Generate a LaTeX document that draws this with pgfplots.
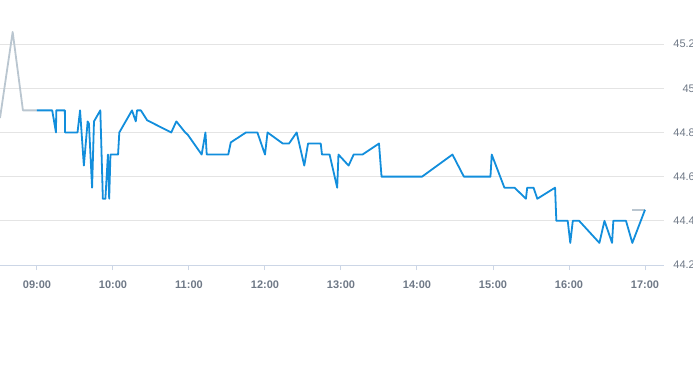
\documentclass[border=0pt]{standalone}
\usepackage{pgfplots}
\pgfplotsset{compat=1.18}
\usepackage{fontspec}
\setmainfont{Liberation Sans}
\definecolor{lblue}{RGB}{18,142,220}
\definecolor{lgray}{RGB}{186,198,208}
\definecolor{gridc}{RGB}{228,228,228}
\definecolor{axisc}{RGB}{204,214,230}
\definecolor{labc}{RGB}{110,120,134}
\begin{document}
\begin{tikzpicture}
\begin{axis}[
  name=ax,
  at={(0,0)}, anchor=south west,
  scale only axis, width=664bp, height=243bp,
  xmin=-29.2, xmax=495, ymin=44.2, ymax=45.3,
  axis x line*=bottom, axis y line=none,
  x axis line style={draw=axisc, line width=1bp, -},
  xtick={0,60,120,180,240,300,360,420,480},
  xticklabels={09:00,10:00,11:00,12:00,13:00,14:00,15:00,16:00,17:00},
  xtick style={draw=axisc, line width=1bp},
  major tick length=5bp,
  tick align=outside,
  xticklabel style={font=\fontsize{11bp}{13bp}\selectfont\bfseries, text=labc, anchor=base, yshift=-18bp, inner sep=0pt},
  ytick=\empty,
  extra description/.code={%
    \foreach \v/\l in {44.2/44.2,44.4/44.4,44.6/44.6,44.8/44.8,45/45,45.2/45.2}{%
      \node[anchor=east, inner sep=0pt, font=\fontsize{11bp}{13bp}\selectfont, text=labc] at (axis cs:495,\v) [xshift=31bp] {\l};
    }%
  },
  clip=true,
]
\pgfplotsinvokeforeach{44.4,44.6,44.8,45,45.2}{%
  \draw[gridc, line width=1bp] (axis cs:-29.2,#1) -- (axis cs:495,#1);
}
\addplot[lgray, line width=1.8bp, line join=round] coordinates {
(-29.2,44.865) (-19.2,45.255) (-11.1,44.9) (0,44.9)
};
\addplot[lgray, line width=1.8bp] coordinates {
(470,44.45) (480,44.45)
};
\addplot[lblue, line width=1.8bp, line join=round] coordinates {
(0,44.9) (12,44.9) (15,44.8) (15.2,44.9) (22,44.9) (22.2,44.8) (32,44.8) (34,44.9)
(37,44.65) (40,44.85) (41,44.84) (43.5,44.55) (45,44.85) (50,44.9) (52,44.5)
(54,44.5) (56,44.7) (57,44.5) (58,44.7) (64,44.7) (65,44.8) (75,44.9) (78,44.85)
(79,44.9) (82,44.9) (87,44.855) (106,44.8) (110,44.85) (117,44.8) (119,44.79)
(130,44.7) (133,44.8) (134,44.7) (151,44.7) (153,44.755) (165,44.8) (174,44.8)
(180,44.7) (182,44.8) (194,44.75) (199,44.75) (205,44.8) (211,44.65) (214,44.75)
(224,44.75) (225,44.7) (231,44.7) (237,44.55) (238,44.7) (246,44.65) (250,44.7)
(257,44.7) (270,44.75) (272,44.6) (304,44.6) (328,44.7) (337,44.6) (358,44.6)
(359,44.7) (369,44.55) (377,44.55) (386,44.5) (387,44.55) (392,44.55) (395,44.5)
(409,44.55) (410,44.4) (419,44.4) (421,44.3) (423,44.4) (428,44.4) (444,44.3)
(448,44.4) (454,44.3) (455,44.4) (465,44.4) (470,44.3) (480,44.45)
};
\end{axis}
\pgfresetboundingbox
\path[use as bounding box] ([yshift=-100bp]ax.south west) rectangle ([xshift=693bp,yshift=265bp]ax.south west);
\end{tikzpicture}
\end{document}
